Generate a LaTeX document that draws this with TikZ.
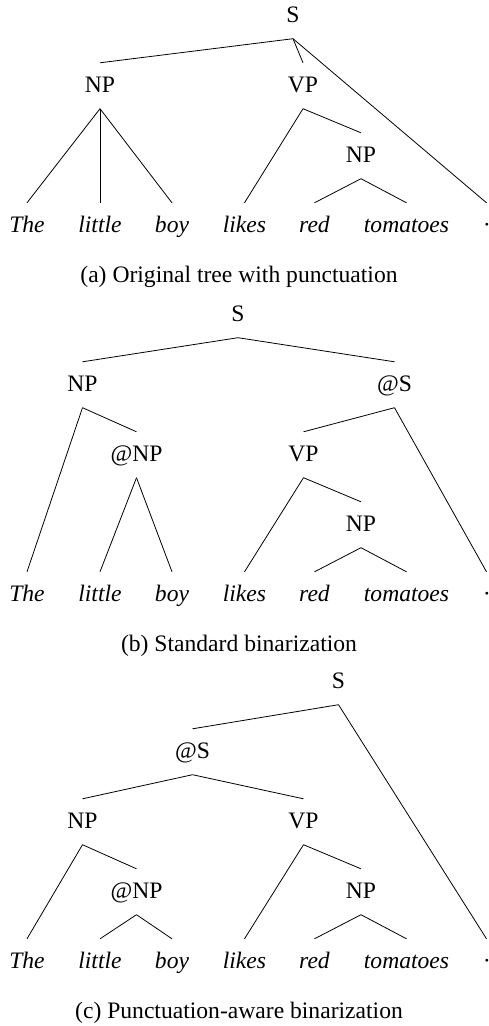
\documentclass[tikz,border=0pt]{standalone}
\usepackage{fontspec}
\setmainfont{Liberation Serif}
\begin{document}
\begin{tikzpicture}[x=1pt,y=-1pt,
  every node/.style={font=\fontsize{23.6}{28}\selectfont},
  cat/.style={inner sep=0pt,text height=29pt,text depth=16.5pt,anchor=base},
  leaf/.style={cat,font=\fontsize{23.6}{28}\selectfont\itshape},
  caption/.style={inner sep=0pt,anchor=base},
  edge/.style={draw,line width=0.8pt}]
\useasboundingbox (0,0) rectangle (489,1026);
% ---------- (a) ----------
\node[cat] (aS) at (293,22) {S};
\node[cat] (aNP) at (100,92) {NP};
\node[cat] (aVP) at (303,92) {VP};
\node[cat] (aNP2) at (361,162) {NP};
\node[leaf] (aw1) at (27,232) {The};
\node[leaf] (aw2) at (100,232) {little};
\node[leaf] (aw3) at (172,232) {boy};
\node[leaf] (aw4) at (244.5,232) {likes};
\node[leaf] (aw5) at (314.5,232) {red};
\node[leaf] (aw6) at (406.5,232) {tomatoes};
\node[leaf] (aw7) at (486.5,232) {·};
\draw[edge] (aS.south) -- (aNP.north);
\draw[edge] (aS.south) -- (aVP.north);
\draw[edge] (aS.south) -- (aw7.north);
\draw[edge] (aNP.south) -- (aw1.north);
\draw[edge] (aNP.south) -- (aw2.north);
\draw[edge] (aNP.south) -- (aw3.north);
\draw[edge] (aVP.south) -- (aw4.north);
\draw[edge] (aVP.south) -- (aNP2.north);
\draw[edge] (aNP2.south) -- (aw5.north);
\draw[edge] (aNP2.south) -- (aw6.north);
\node[caption] (capa) at (239,282) {(a) Original tree with punctuation};
% ---------- (b) ----------
\node[cat] (bS) at (238,321) {S};
\node[cat] (bNP) at (82.5,391) {NP};
\node[cat] (batS) at (394.5,391) {@S};
\node[cat] (batNP) at (136.5,461) {@NP};
\node[cat] (bVP) at (303.5,461) {VP};
\node[cat] (bNP2) at (361,531) {NP};
\node[leaf] (bw1) at (27,601) {The};
\node[leaf] (bw2) at (100,601) {little};
\node[leaf] (bw3) at (172,601) {boy};
\node[leaf] (bw4) at (244.5,601) {likes};
\node[leaf] (bw5) at (314.5,601) {red};
\node[leaf] (bw6) at (406.5,601) {tomatoes};
\node[leaf] (bw7) at (486.5,601) {·};
\draw[edge] (bS.south) -- (bNP.north);
\draw[edge] (bS.south) -- (batS.north);
\draw[edge] (bNP.south) -- (bw1.north);
\draw[edge] (bNP.south) -- (batNP.north);
\draw[edge] (batNP.south) -- (bw2.north);
\draw[edge] (batNP.south) -- (bw3.north);
\draw[edge] (batS.south) -- (bVP.north);
\draw[edge] (batS.south) -- (bw7.north);
\draw[edge] (bVP.south) -- (bw4.north);
\draw[edge] (bVP.south) -- (bNP2.north);
\draw[edge] (bNP2.south) -- (bw5.north);
\draw[edge] (bNP2.south) -- (bw6.north);
\node[caption] (capb) at (239,651) {(b) Standard binarization};
% ---------- (c) ----------
\node[cat] (cS) at (338.5,688) {S};
\node[cat] (catS) at (192.5,758) {@S};
\node[cat] (cNP) at (82.5,828) {NP};
\node[cat] (cVP) at (303.5,828) {VP};
\node[cat] (catNP) at (136.5,898) {@NP};
\node[cat] (cNP2) at (361,898) {NP};
\node[leaf] (cw1) at (27,968) {The};
\node[leaf] (cw2) at (100,968) {little};
\node[leaf] (cw3) at (172,968) {boy};
\node[leaf] (cw4) at (244.5,968) {likes};
\node[leaf] (cw5) at (314.5,968) {red};
\node[leaf] (cw6) at (406.5,968) {tomatoes};
\node[leaf] (cw7) at (486.5,968) {·};
\draw[edge] (cS.south) -- (catS.north);
\draw[edge] (cS.south) -- (cw7.north);
\draw[edge] (catS.south) -- (cNP.north);
\draw[edge] (catS.south) -- (cVP.north);
\draw[edge] (cNP.south) -- (cw1.north);
\draw[edge] (cNP.south) -- (catNP.north);
\draw[edge] (catNP.south) -- (cw2.north);
\draw[edge] (catNP.south) -- (cw3.north);
\draw[edge] (cVP.south) -- (cw4.north);
\draw[edge] (cVP.south) -- (cNP2.north);
\draw[edge] (cNP2.south) -- (cw5.north);
\draw[edge] (cNP2.south) -- (cw6.north);
\node[caption] (capc) at (239,1018) {(c) Punctuation-aware binarization};
\end{tikzpicture}
\end{document}
